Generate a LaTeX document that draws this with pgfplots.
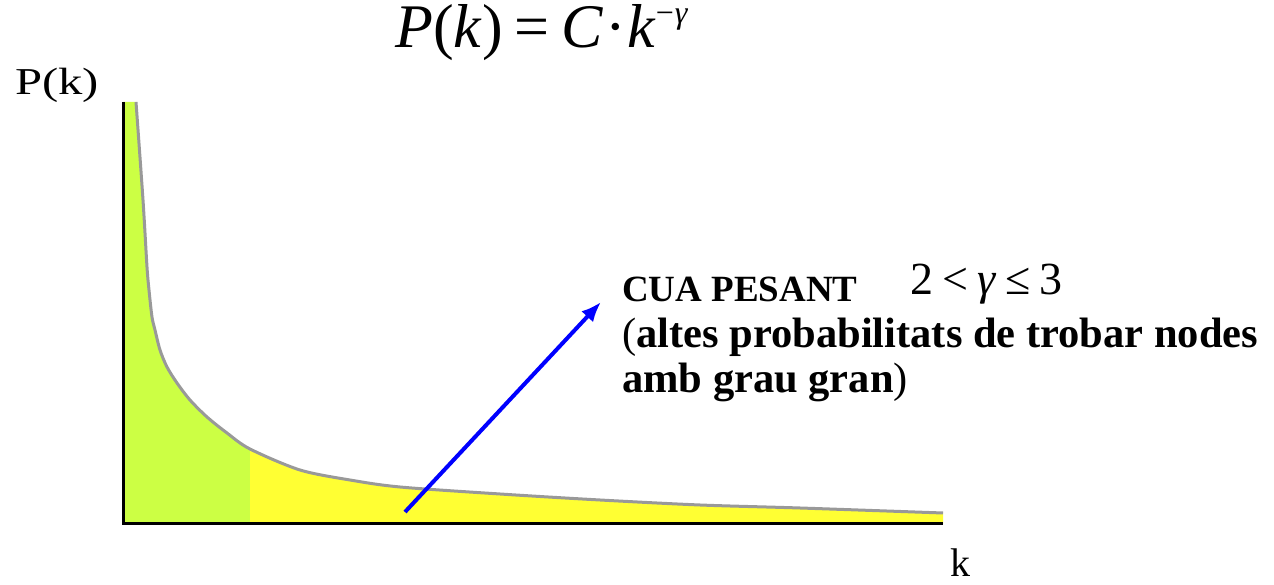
\documentclass[border=0pt]{standalone}
\usepackage{pgfplots}
\pgfplotsset{compat=1.18}
\usepackage{fontspec}
\setmainfont{Liberation Serif}
\usetikzlibrary{arrows.meta}
\definecolor{lgreen}{HTML}{CCFF44}
\definecolor{lyellow}{HTML}{FFFF33}
\definecolor{cgrey}{HTML}{999999}
\begin{document}
\begin{tikzpicture}[x=1pt,y=1pt]
\useasboundingbox (0,0) rectangle (1274,585);
\begin{axis}[
  at={(123pt,61pt)}, anchor=south west,
  scale only axis, width=820pt, height=422pt,
  xmin=0, xmax=820, ymin=0, ymax=422,
  axis lines=none,
  xtick=\empty, ytick=\empty,
  clip=false,
]
\addplot[draw=none, fill=lgreen] coordinates {
 (0,422) (13,422) (20,324) (24,257) (26,234) (29,207) (32,194) (37,174)
 (44,157) (54,141) (67,124) (84,107) (104,91) (127,75)} \closedcycle;
\addplot[draw=none, fill=lyellow] coordinates {
 (127,75) (177,54) (227,44) (277,37) (377,30) (477,24) (577,19) (677,16) (820,11)} \closedcycle;
\addplot[cgrey, line width=3pt, smooth] coordinates {
 (13,422) (20,324) (24,257) (26,234) (29,207) (32,194) (37,174)
 (44,157) (54,141) (67,124) (84,107) (104,91) (127,75)
 (177,54) (227,44) (277,37) (377,30) (477,24) (577,19) (677,16) (820,11)};
\draw[black, line width=3pt] (axis cs:0,422) -- (axis cs:0,0) -- (axis cs:820,0);
\draw[blue, line width=4pt, -{Latex[length=20pt,width=16pt]}] (axis cs:282,12) -- (axis cs:478,222);
\end{axis}
\node[anchor=base west, inner sep=0pt] at (395,537) {\fontsize{62}{66}\selectfont\textit{P}(\textit{k})\hspace{12pt}=\hspace{12pt}\textit{C}\kern2pt·\kern1pt\textit{k}\raisebox{24pt}{\fontsize{32}{34}\selectfont −\kern1pt\textit{γ}}};
\node[anchor=base west, inner sep=0pt] at (15,490) {\scalebox{1.28}[1]{\fontsize{38}{42}\selectfont P(k)}};
\node[anchor=base west, inner sep=0pt] at (950,8) {\fontsize{40}{44}\selectfont k};
\node[anchor=base west, inner sep=0pt] at (622,283) {\fontsize{37}{40}\selectfont\bfseries CUA PESANT};
\node[anchor=base west, inner sep=0pt] at (910,290) {\fontsize{46}{48}\selectfont 2\kern9pt<\kern9pt\textit{γ}\kern9pt≤\kern9pt3};
\node[anchor=base west, inner sep=0pt] at (622,237) {\fontsize{42.5}{44}\selectfont (\textbf{altes probabilitats de trobar nodes}};
\node[anchor=base west, inner sep=0pt] at (622,192) {\fontsize{42.5}{44}\selectfont \textbf{amb grau gran})};
\end{tikzpicture}
\end{document}
